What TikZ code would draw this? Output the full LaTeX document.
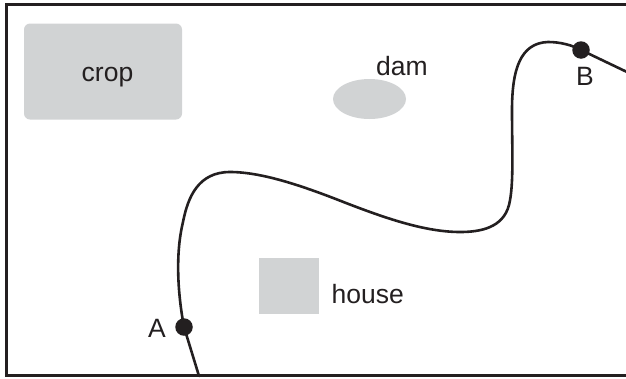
\documentclass[tikz,border=0pt]{standalone}
\usepackage{fontspec}
\usetikzlibrary{shapes.geometric}
\setmainfont{Liberation Sans}
\definecolor{inkk}{HTML}{231F20}
\definecolor{fillgray}{HTML}{D1D3D4}
\tikzset{
  lbl/.style={font=\fontsize{26.5}{30}\selectfont, text=inkk, inner sep=0pt},
  area/.style={fill=fillgray, draw=none, inner sep=0pt, outer sep=0pt},
  dot/.style={circle, fill=inkk, draw=none, minimum size=17.5pt, inner sep=0pt},
  route/.style={draw=inkk, line width=2.6pt, line cap=round, line join=round},
  frame/.style={draw=inkk, line width=2.8pt}
}
\begin{document}
\begin{tikzpicture}[x=1pt,y=-1pt]
\useasboundingbox (0,0) rectangle (626,378);
\clip (0,0) rectangle (626,378);
\draw[frame] (640,4.5) -- (6.5,4.5) -- (6.5,375.5) -- (640,375.5);
\node[area, rounded corners=6pt, minimum width=158pt, minimum height=96pt] (crop) at (103,71.5) {};
\node[area, ellipse, minimum width=73pt, minimum height=40pt] (dam) at (369.5,99) {};
\node[area, minimum width=60pt, minimum height=56pt] (house) at (289,286) {};
\node[lbl, anchor=base] (croplabel) at (107.5,81) {crop};
\node[lbl, anchor=base] (damlabel) at (402,75) {dam};
\node[lbl, anchor=base west] (houselabel) at (331.5,303.5) {house};
\coordinate (bottomend) at (199,376);
\coordinate (rightend) at (627,72);
\node[dot] (A) at (184,327) {};
\node[dot] (B) at (581,50) {};
\node[lbl, anchor=base] (Alabel) at (157,337.5) {A};
\node[lbl, anchor=base] (Blabel) at (585,85.5) {B};
\draw[route] (bottomend) -- (A.center);
\draw[route] (A.center)
  .. controls (178,295) and (175,255) .. (183,222)
  .. controls (188,196) and (199,172) .. (230,172)
  .. controls (262,172) and (303,186) .. (346,203)
  .. controls (385,218) and (425,232) .. (460,232)
  .. controls (480,232) and (503,228) .. (509,205)
  .. controls (514,185) and (512,150) .. (512,110)
  .. controls (512,70) and (520,43) .. (548,42)
  .. controls (560,42) and (572,45) .. (B.center);
\draw[route] (B.center) -- (rightend);
\end{tikzpicture}
\end{document}
